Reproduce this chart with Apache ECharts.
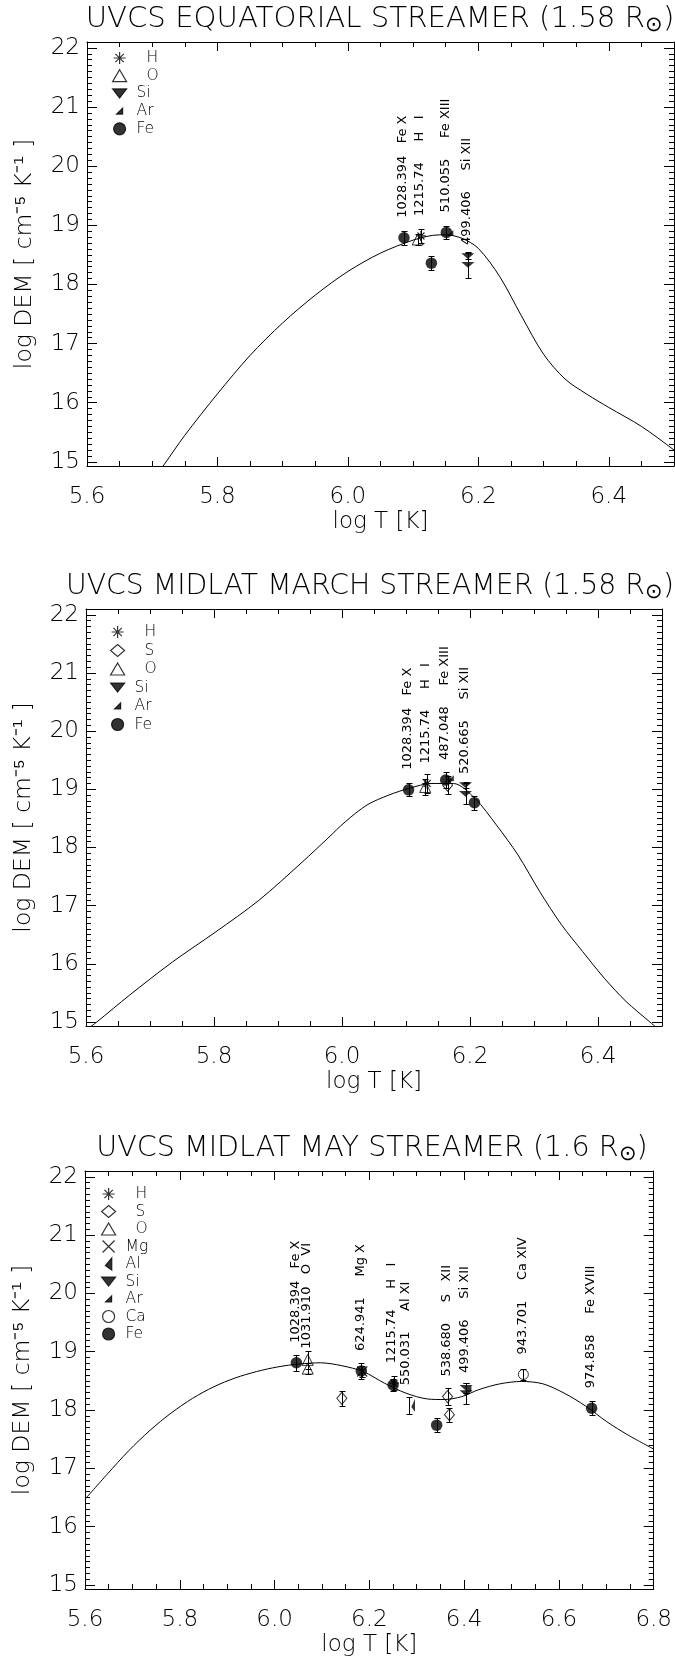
<!DOCTYPE html>
<html><head><meta charset="utf-8">
<script src="https://cdn.jsdelivr.net/npm/echarts@6/dist/echarts.min.js"></script>
<style>html,body{margin:0;padding:0;background:#fff}#c{width:675px;height:1661px}</style>
</head><body><div id="c"></div>
<script>
// ---------------- DATA ----------------
const yTicks = [15, 16, 17, 18, 19, 20, 21, 22];
const xTicksShort = [5.6, 5.8, 6.0, 6.2, 6.4];
const xTicksLong = [5.6, 5.8, 6.0, 6.2, 6.4, 6.6, 6.8];

const titles = ['UVCS EQUATORIAL STREAMER (1.58 R', 'UVCS MIDLAT MARCH STREAMER (1.58 R', 'UVCS MIDLAT MAY STREAMER (1.6 R'];

// Panel 1 : equatorial streamer
const p1CurveT   = [5.700, 5.718, 5.750, 5.800, 5.850, 5.900, 5.950, 6.000, 6.050, 6.100, 6.130, 6.150, 6.175, 6.200, 6.233, 6.266, 6.300, 6.333, 6.367, 6.400, 6.450, 6.500, 6.520];
const p1CurveDEM = [14.68, 14.95, 15.45, 16.15, 16.80, 17.35, 17.82, 18.22, 18.53, 18.75, 18.83, 18.84, 18.78, 18.61, 18.13, 17.47, 16.82, 16.40, 16.14, 15.92, 15.60, 15.20, 15.02];
const p1FeT = [6.086, 6.128, 6.151], p1FeDEM = [18.79, 18.36, 18.88], p1FeErr = [0.12, 0.12, 0.11];
const p1HT = [6.112], p1HDEM = [18.82], p1HErr = [0.12];
const p1OT = [6.107], p1ODEM = [18.76], p1OErr = [0.10];
const p1SiT = [6.184, 6.184], p1SiDEM = [18.48, 18.33], p1SiErr = [0.05, 0.22];
const p1ArT = [6.157], p1ArDEM = [18.87];
const p1LabT = [6.086, 6.112, 6.151, 6.184];
const p1LabDEM = [18.79, 18.82, 18.88, 18.33];
const p1LabWave = ['1028.394', '1215.74', '510.055', '499.406'];
const p1LabIon = ['Fe X', 'H   I', 'Fe XIII', 'Si XII'];

// Panel 2 : mid-latitude March streamer
const p2CurveT   = [5.600, 5.617, 5.668, 5.735, 5.803, 5.870, 5.938, 5.978, 6.005, 6.039, 6.073, 6.106, 6.140, 6.174, 6.208, 6.241, 6.275, 6.309, 6.343, 6.376, 6.410, 6.444, 6.481, 6.500];
const p2CurveDEM = [14.86, 15.00, 15.46, 16.03, 16.55, 17.09, 17.75, 18.16, 18.44, 18.73, 18.90, 19.02, 19.10, 19.10, 18.84, 18.39, 17.87, 17.24, 16.67, 16.21, 15.75, 15.35, 15.00, 14.82];
const p2FeT = [6.104, 6.162, 6.207], p2FeDEM = [18.99, 19.16, 18.77], p2FeErr = [0.11, 0.14, 0.12];
const p2HT = [6.133], p2HDEM = [19.10], p2HErr = [0.16];
const p2ST = [6.165], p2SDEM = [19.07], p2SErr = [0.15];
const p2OT = [6.130], p2ODEM = [19.04], p2OErr = [0.14];
const p2SiT = [6.193, 6.193], p2SiDEM = [19.07, 18.92], p2SiErr = [0.05, 0.18];
const p2ArT = [6.170], p2ArDEM = [19.19];
const p2LabT = [6.104, 6.133, 6.162, 6.193];
const p2LabDEM = [18.99, 19.10, 19.16, 18.92];
const p2LabWave = ['1028.394', '1215.74', '487.048', '520.665'];
const p2LabIon = ['Fe X', 'H   I', 'Fe XIII', 'Si XII'];

// Panel 3 : mid-latitude May streamer
const p3CurveT   = [5.600, 5.647, 5.692, 5.737, 5.782, 5.827, 5.872, 5.917, 5.962, 6.007, 6.052, 6.097, 6.142, 6.187, 6.232, 6.277, 6.322, 6.358, 6.395, 6.431, 6.476, 6.521, 6.566, 6.611, 6.656, 6.701, 6.746, 6.800];
const p3CurveDEM = [16.47, 16.90, 17.30, 17.65, 17.95, 18.20, 18.40, 18.55, 18.66, 18.74, 18.79, 18.81, 18.76, 18.66, 18.46, 18.29, 18.19, 18.18, 18.23, 18.35, 18.45, 18.49, 18.45, 18.29, 18.07, 17.80, 17.57, 17.33];
const p3FeT = [6.046, 6.183, 6.250, 6.342, 6.669], p3FeDEM = [18.81, 18.67, 18.43, 17.74, 18.03], p3FeErr = [0.14, 0.13, 0.10, 0.12, 0.12];
const p3HT = [6.252], p3HDEM = [18.46], p3HErr = [0.12];
const p3ST = [6.142, 6.365, 6.369], p3SDEM = [18.20, 18.23, 17.92], p3SErr = [0.13, 0.14, 0.12];
const p3OT = [6.070, 6.070], p3ODEM = [18.86, 18.71], p3OErr = [0.16, 0.10];
const p3MgT = [6.185], p3MgDEM = [18.66], p3MgErr = [0.10];
const p3AlT = [6.284], p3AlDEM = [18.08], p3AlErr = [0.14];
const p3SiT = [6.404, 6.404], p3SiDEM = [18.38, 18.29], p3SiErr = [0.08, 0.18];
const p3ArT = [6.409], p3ArDEM = [18.37];
const p3CaT = [6.525], p3CaDEM = [18.61], p3CaErr = [0.10];
const p3LabT = [6.046, 6.070, 6.183, 6.250, 6.278, 6.365, 6.404, 6.525, 6.669];
const p3LabDEM = [18.81, 18.71, 18.67, 18.46, 18.08, 18.23, 18.29, 18.61, 18.03];
const p3LabWave = ['1028.394', '1031.910', '624.941', '1215.74', '550.031', '538.680', '499.406', '943.701', '974.858'];
const p3LabIon = ['Fe X', 'O  VI', 'Mg X', 'H   I', 'Al XI', 'S   XII', 'Si XII', 'Ca XIV', 'Fe XVIII'];

// ---------------- STYLE / BUILD ----------------
const FONT = "'DejaVu Sans', sans-serif";
const FW = 200;
const INK = '#000';

const SYM = {
  H:  {symbol: 'path://M5,0L5,10M0,5L10,5M1.5,1.5L8.5,8.5M1.5,8.5L8.5,1.5', size: 10, style: {color: 'rgba(0,0,0,0)', borderColor: INK, borderWidth: 1.2}},
  S:  {symbol: 'diamond', size: [10, 12], style: {color: 'rgba(0,0,0,0)', borderColor: INK, borderWidth: 1}},
  O:  {symbol: 'triangle', size: 11, style: {color: 'rgba(0,0,0,0)', borderColor: INK, borderWidth: 1}},
  Mg: {symbol: 'path://M0,0L10,10M0,10L10,0', size: 10, style: {color: 'rgba(0,0,0,0)', borderColor: INK, borderWidth: 1.2}},
  Al: {symbol: 'path://M10,0L10,19L0,12Z', size: [7, 13], style: {color: INK, borderColor: INK, borderWidth: 0}},
  Si: {symbol: 'path://M0,0L14,0L7,9Z', size: [13, 9], style: {color: INK, borderColor: INK, borderWidth: 0}},
  Ar: {symbol: 'path://M0,0M12,12M9,3L9,9L3,9Z', size: 12, style: {color: INK, borderColor: INK, borderWidth: 0}},
  Ca: {symbol: 'circle', size: 10, style: {color: 'rgba(0,0,0,0)', borderColor: INK, borderWidth: 1}},
  Fe: {symbol: 'circle', size: 11.5, style: {color: INK, borderColor: INK, borderWidth: 0}}
};

const panels = [
  {
    grid: {left: 87, top: 42, width: 587, height: 424},
    xMin: 5.6, xMax: 6.5, yMin: 14.93, yMax: 22.1, xMajor: xTicksShort,
    title: titles[0], titleTop: 3, titleX: 380, titleSize: 29.2,
    legend: {left: 112, top: 50, gap: 1.7},
    curve: [p1CurveT, p1CurveDEM],
    species: [
      ['H', p1HT, p1HDEM, p1HErr], ['O', p1OT, p1ODEM, p1OErr], ['Si', p1SiT, p1SiDEM, p1SiErr],
      ['Ar', p1ArT, p1ArDEM, null], ['Fe', p1FeT, p1FeDEM, p1FeErr]
    ],
    labels: [p1LabT, p1LabDEM, p1LabWave, p1LabIon]
  },
  {
    grid: {left: 86, top: 609, width: 576, height: 417},
    xMin: 5.6, xMax: 6.5, yMin: 14.93, yMax: 22.1, xMajor: xTicksShort,
    title: titles[1], titleTop: 570, titleX: 370, titleSize: 28.3,
    legend: {left: 110, top: 624, gap: 2.5},
    curve: [p2CurveT, p2CurveDEM],
    species: [
      ['H', p2HT, p2HDEM, p2HErr], ['S', p2ST, p2SDEM, p2SErr], ['O', p2OT, p2ODEM, p2OErr],
      ['Si', p2SiT, p2SiDEM, p2SiErr], ['Ar', p2ArT, p2ArDEM, null], ['Fe', p2FeT, p2FeDEM, p2FeErr]
    ],
    labels: [p2LabT, p2LabDEM, p2LabWave, p2LabIon]
  },
  {
    grid: {left: 85, top: 1171, width: 573, height: 418},
    xMin: 5.6, xMax: 6.8, yMin: 14.93, yMax: 22.1, xMajor: xTicksLong,
    title: titles[2], titleTop: 1132, titleX: 372, titleSize: 28.6,
    legend: {left: 101, top: 1186, gap: 1.5},
    curve: [p3CurveT, p3CurveDEM],
    species: [
      ['H', p3HT, p3HDEM, p3HErr], ['S', p3ST, p3SDEM, p3SErr], ['O', p3OT, p3ODEM, p3OErr],
      ['Mg', p3MgT, p3MgDEM, p3MgErr], ['Al', p3AlT, p3AlDEM, p3AlErr], ['Si', p3SiT, p3SiDEM, p3SiErr],
      ['Ar', p3ArT, p3ArDEM, null], ['Ca', p3CaT, p3CaDEM, p3CaErr], ['Fe', p3FeT, p3FeDEM, p3FeErr]
    ],
    labels: [p3LabT, p3LabDEM, p3LabWave, p3LabIon]
  }
];

function steps(lo, hi, step) {
  const out = [];
  for (let k = Math.ceil(lo / step - 1e-6); k * step <= hi + 1e-6; k++) out.push(+(k * step).toFixed(4));
  return out.filter(v => v > lo + 1e-6 && v < hi - 1e-6);
}
function labelText(w, ion) {
  return w + ' '.repeat(3 + 2 * Math.max(0, 8 - w.length)) + ion;
}

const option = {animation: false, backgroundColor: '#fff', grid: [], xAxis: [], yAxis: [], series: [], title: [], legend: []};

panels.forEach((p, pi) => {
  option.grid.push(Object.assign({containLabel: false}, p.grid));
  const xMinor = steps(p.xMin, p.xMax, 0.05);
  const yMinor = steps(p.yMin, p.yMax, 0.1);
  const yMajor = yTicks.filter(v => v >= p.yMin && v <= p.yMax);
  const lineSt = {color: INK, width: 1};
  const baseX = {gridIndex: pi, type: 'value', min: p.xMin, max: p.xMax, splitLine: {show: false}, axisPointer: {show: false}};
  const baseY = {gridIndex: pi, type: 'value', min: p.yMin, max: p.yMax, splitLine: {show: false}, axisPointer: {show: false}};
  option.xAxis.push(Object.assign({}, baseX, {
    position: 'bottom',
    axisLine: {show: true, onZero: false, lineStyle: lineSt},
    axisTick: {show: true, inside: true, length: 9, customValues: p.xMajor, lineStyle: lineSt},
    axisLabel: {show: true, customValues: p.xMajor, margin: 20, formatter: v => Number(v).toFixed(1),
      color: INK, fontSize: 23, fontFamily: FONT, fontWeight: FW},
    name: 'log T [K]', nameLocation: 'middle', nameGap: 45,
    nameTextStyle: {color: INK, fontSize: 23, fontFamily: FONT, fontWeight: FW}
  }));
  option.xAxis.push(Object.assign({}, baseX, {
    position: 'bottom', axisLine: {show: false, onZero: false},
    axisTick: {show: true, inside: true, length: 5, customValues: xMinor, lineStyle: lineSt},
    axisLabel: {show: false}
  }));
  option.xAxis.push(Object.assign({}, baseX, {
    position: 'top', axisLine: {show: true, onZero: false, lineStyle: lineSt},
    axisTick: {show: true, inside: true, length: 9, customValues: p.xMajor, lineStyle: lineSt},
    axisLabel: {show: false}
  }));
  option.xAxis.push(Object.assign({}, baseX, {
    position: 'top', axisLine: {show: false, onZero: false},
    axisTick: {show: true, inside: true, length: 5, customValues: xMinor, lineStyle: lineSt},
    axisLabel: {show: false}
  }));
  option.yAxis.push(Object.assign({}, baseY, {
    position: 'left',
    axisLine: {show: true, onZero: false, lineStyle: lineSt},
    axisTick: {show: true, inside: true, length: 10, customValues: yMajor, lineStyle: lineSt},
    axisLabel: {show: true, customValues: yMajor, margin: 7, formatter: v => String(Math.round(v)),
      color: INK, fontSize: 23, fontFamily: FONT, fontWeight: FW},
    name: 'log DEM [ cm\u207B\u2075 K\u207B\u00B9 ]', nameLocation: 'middle', nameRotate: 90, nameGap: 50,
    nameTextStyle: {color: INK, fontSize: 23.5, fontFamily: FONT, fontWeight: FW}
  }));
  option.yAxis.push(Object.assign({}, baseY, {
    position: 'left', axisLine: {show: false, onZero: false},
    axisTick: {show: true, inside: true, length: 5, customValues: yMinor, lineStyle: lineSt},
    axisLabel: {show: false}
  }));
  option.yAxis.push(Object.assign({}, baseY, {
    position: 'right', axisLine: {show: true, onZero: false, lineStyle: lineSt},
    axisTick: {show: true, inside: true, length: 10, customValues: yMajor, lineStyle: lineSt},
    axisLabel: {show: false}
  }));
  option.yAxis.push(Object.assign({}, baseY, {
    position: 'right', axisLine: {show: false, onZero: false},
    axisTick: {show: true, inside: true, length: 5, customValues: yMinor, lineStyle: lineSt},
    axisLabel: {show: false}
  }));

  const xi = pi * 4, yi = pi * 4;

  option.title.push({
    text: '{a|' + p.title + '}{b|\u2299}{a|)}',
    left: p.titleX, top: p.titleTop, textAlign: 'center', padding: 0,
    textStyle: {rich: {
      a: {fontSize: p.titleSize, fontFamily: FONT, fontWeight: FW, color: INK, lineHeight: 33},
      b: {fontSize: p.titleSize * 0.73, fontFamily: FONT, fontWeight: FW, color: INK, lineHeight: 18, verticalAlign: 'bottom'}
    }}
  });

  option.legend.push({
    orient: 'vertical', left: p.legend.left, top: p.legend.top, padding: 0,
    itemWidth: 14, itemHeight: 12, itemGap: p.legend.gap, selectedMode: false,
    data: p.species.map(s => s[0]),
    formatter: n => (n.length === 1 ? '   ' : ' ') + n,
    itemStyle: {borderWidth: 1.2},
    textStyle: {color: INK, fontSize: 15.5, fontFamily: FONT, fontWeight: FW}
  });

  option.series.push({
    type: 'line', xAxisIndex: xi, yAxisIndex: yi, name: 'DEM' + pi,
    data: p.curve[0].map((t, i) => [t, p.curve[1][i]]),
    smooth: 0.3, showSymbol: false, symbol: 'none', clip: true, silent: true, z: 2,
    lineStyle: {color: INK, width: 1}
  });

  const errData = [];
  p.species.forEach(s => { if (s[3]) s[1].forEach((t, i) => errData.push([t, s[2][i], s[3][i]])); });
  option.series.push({
    type: 'custom', xAxisIndex: xi, yAxisIndex: yi, name: 'err' + pi, silent: true, z: 3,
    encode: {x: 0, y: 1}, data: errData,
    renderItem: (params, api) => {
      const x = api.value(0), y = api.value(1), e = api.value(2);
      const a = api.coord([x, y + e]), b = api.coord([x, y - e]);
      const cx = Math.round(a[0]) + 0.5, ya = Math.round(a[1]) + 0.5, yb = Math.round(b[1]) + 0.5;
      const st = {stroke: INK, lineWidth: 1};
      return {type: 'group', children: [
        {type: 'line', shape: {x1: cx, y1: ya, x2: cx, y2: yb}, style: st},
        {type: 'line', shape: {x1: cx - 3, y1: ya, x2: cx + 3, y2: ya}, style: st},
        {type: 'line', shape: {x1: cx - 3, y1: yb, x2: cx + 3, y2: yb}, style: st}
      ]};
    }
  });

  p.species.forEach(s => {
    const d = SYM[s[0]];
    option.series.push({
      type: 'scatter', name: s[0], xAxisIndex: xi, yAxisIndex: yi, silent: true, z: 4,
      data: s[1].map((t, i) => [t, s[2][i]]),
      symbol: d.symbol, symbolSize: d.size, symbolKeepAspect: true,
      symbolOffset: s[0] === 'Al' ? [4, 0] : [0, 0],
      itemStyle: d.style
    });
  });

  const L = p.labels;
  option.series.push({
    type: 'custom', xAxisIndex: xi, yAxisIndex: yi, name: 'lab' + pi, silent: true, z: 5, clip: false,
    encode: {x: 0, y: 1}, data: L[0].map((t, i) => [t, L[1][i], i]),
    renderItem: (params, api) => {
      const i = api.value(2);
      const pt = api.coord([api.value(0), api.value(1)]);
      return {type: 'text', x: pt[0] - 1, y: pt[1] - 20, rotation: Math.PI / 2,
        style: {text: labelText(L[2][i], L[3][i]), fill: INK, fontSize: 13, fontFamily: FONT, fontWeight: 'normal',
          align: 'left', verticalAlign: 'middle'}};
    }
  });
});

const chart = echarts.init(document.getElementById('c'), null, {renderer: 'canvas', width: 675, height: 1661});
chart.setOption(option);
</script>
</body></html>
